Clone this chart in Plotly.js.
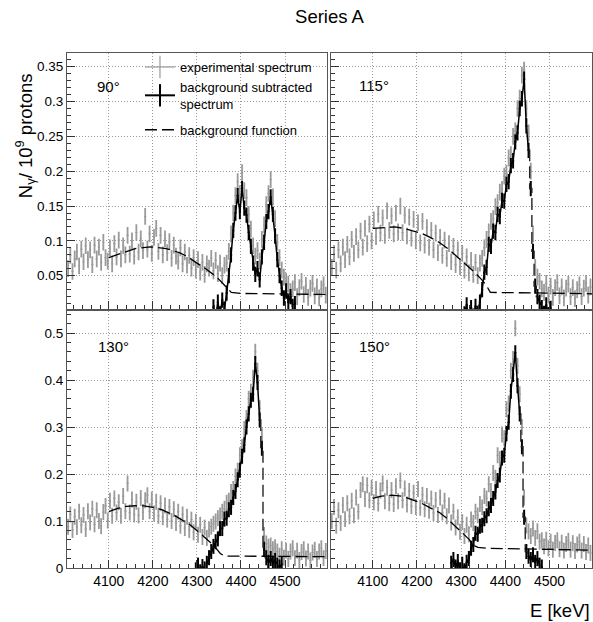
<!DOCTYPE html>
<html><head><meta charset="utf-8">
<script src="https://cdn.plot.ly/plotly-3.0.1.min.js"></script>
<style>html,body{margin:0;padding:0;background:#fff}</style>
</head><body>
<div id="chart" style="width:593px;height:622px"></div>
<script>
// ---- binning of the spectra (keV) ----
const FIRST_BIN = 4007.5;
const BIN_WIDTH = 5;
const panelLabels = ['90°', '115°', '130°', '150°'];

// ---- experimental spectra (N_gamma / 1e9 protons) ----
const exp90 = [
0.060,0.079,0.056,0.074,0.084,0.064,0.088,0.070,0.093,0.073,
0.087,0.066,0.094,0.074,0.091,0.069,0.098,0.076,0.071,0.090,
0.067,0.096,0.077,0.101,0.074,0.093,0.080,0.108,0.081,0.100,
0.078,0.112,0.084,0.103,0.086,0.135,0.088,0.110,0.082,0.105,
0.118,0.085,0.108,0.080,0.103,0.083,0.099,0.075,0.094,0.078,
0.071,0.090,0.067,0.084,0.065,0.079,0.061,0.076,0.058,0.073,
0.055,0.069,0.052,0.067,0.061,0.075,0.057,0.072,0.053,0.068,
0.050,0.065,0.068,0.085,0.110,0.140,0.165,0.185,0.168,0.198,
0.172,0.162,0.138,0.117,0.093,0.078,0.086,0.071,0.102,0.123,
0.152,0.168,0.188,0.163,0.132,0.098,0.076,0.058,0.048,0.042,
0.038,0.027,0.031,0.040,0.020,0.033,0.042,0.023,0.036,0.019,
0.032,0.039,0.021,0.034,0.018,0.031,0.037,0.022];
const exp115 = [
0.062,0.082,0.058,0.087,0.067,0.091,0.073,0.095,0.077,0.102,
0.082,0.106,0.087,0.114,0.091,0.118,0.096,0.124,0.100,0.130,
0.106,0.138,0.111,0.133,0.108,0.143,0.115,0.136,0.110,0.140,
0.113,0.150,0.112,0.137,0.107,0.134,0.104,0.131,0.100,0.126,
0.097,0.128,0.094,0.119,0.091,0.115,0.087,0.111,0.083,0.105,
0.079,0.101,0.075,0.096,0.070,0.092,0.066,0.087,0.063,0.082,
0.058,0.077,0.054,0.072,0.052,0.069,0.050,0.068,0.075,0.090,
0.102,0.113,0.128,0.132,0.149,0.155,0.170,0.174,0.193,0.197,
0.219,0.224,0.250,0.258,0.290,0.305,0.338,0.345,0.290,0.255,
0.200,0.110,0.062,0.048,0.042,0.031,0.026,0.039,0.022,0.035,
0.019,0.033,0.040,0.021,0.034,0.018,0.032,0.038,0.020,0.033,
0.017,0.030,0.037,0.020,0.032,0.039,0.022,0.034];
const exp130 = [
0.088,0.114,0.081,0.109,0.087,0.120,0.091,0.113,0.083,0.121,
0.097,0.126,0.093,0.123,0.100,0.089,0.119,0.132,0.101,0.143,
0.111,0.148,0.118,0.140,0.111,0.153,0.121,0.180,0.118,0.146,
0.114,0.141,0.112,0.149,0.119,0.144,0.155,0.121,0.146,0.116,
0.141,0.111,0.138,0.108,0.133,0.103,0.130,0.100,0.125,0.096,
0.120,0.090,0.114,0.085,0.109,0.081,0.103,0.076,0.098,0.071,
0.092,0.066,0.086,0.064,0.082,0.088,0.094,0.099,0.106,0.112,
0.120,0.126,0.139,0.143,0.162,0.168,0.195,0.207,0.240,0.257,
0.296,0.319,0.360,0.375,0.405,0.460,0.420,0.340,0.280,0.070,
0.052,0.045,0.048,0.040,0.044,0.035,0.026,0.040,0.022,0.037,
0.019,0.035,0.042,0.021,0.037,0.017,0.034,0.040,0.020,0.035,
0.016,0.033,0.039,0.019,0.035,0.042,0.021,0.036];
const exp150 = [
0.100,0.130,0.090,0.123,0.096,0.134,0.104,0.138,0.110,0.143,
0.112,0.150,0.120,0.166,0.178,0.147,0.176,0.144,0.171,0.140,
0.168,0.137,0.165,0.180,0.142,0.171,0.138,0.166,0.136,0.174,
0.142,0.186,0.144,0.169,0.135,0.164,0.132,0.160,0.130,0.168,
0.128,0.156,0.125,0.153,0.122,0.148,0.117,0.145,0.113,0.150,
0.118,0.143,0.110,0.133,0.097,0.120,0.086,0.108,0.077,0.098,
0.068,0.092,0.072,0.103,0.096,0.120,0.112,0.136,0.129,0.153,
0.148,0.178,0.164,0.202,0.192,0.240,0.232,0.284,0.276,0.338,
0.350,0.420,0.445,0.510,0.430,0.370,0.300,0.150,0.090,0.078,
0.068,0.084,0.064,0.078,0.056,0.059,0.046,0.060,0.042,0.056,
0.039,0.053,0.059,0.040,0.054,0.037,0.051,0.058,0.039,0.053,
0.036,0.050,0.056,0.037,0.051,0.034,0.048,0.032];

// ---- background subtracted spectra (first bin centre, values) ----
const sub90Start = 4337.5;
const sub90 = [
0.005,-0.010,0.012,-0.005,0.015,0.002,0.025,0.050,0.080,0.115,
0.140,0.165,0.142,0.175,0.147,0.137,0.112,0.092,0.068,0.052,
0.060,0.044,0.077,0.098,0.128,0.142,0.163,0.138,0.107,0.073,
0.050,0.032,0.018,0.028,0.012,0.020,0.006,0.010];
const sub115Start = 4307.5;
const sub115 = [
-0.005,0.008,-0.012,0.004,-0.008,0.006,-0.004,0.012,0.030,0.055,
0.062,0.095,0.092,0.114,0.112,0.138,0.135,0.158,0.157,0.181,
0.185,0.208,0.215,0.242,0.255,0.290,0.304,0.332,0.265,0.230,
0.175,0.085,0.035,0.020,0.012,0.004,-0.004,0.008,-0.006,0.003];
const sub130Start = 4297.5;
const sub130 = [
-0.004,0.006,-0.008,0.003,-0.002,0.010,0.022,0.035,0.046,0.056,
0.062,0.084,0.084,0.104,0.106,0.124,0.129,0.150,0.163,0.188,
0.208,0.238,0.262,0.300,0.328,0.357,0.370,0.435,0.395,0.315,
0.255,0.040,0.022,0.012,0.020,0.010,0.016,0.006,0.002,0.008];
const sub150Start = 4277.5;
const sub150 = [
0.010,0.018,0.002,0.014,-0.004,0.008,-0.006,0.012,0.020,0.042,
0.050,0.074,0.072,0.089,0.091,0.105,0.111,0.126,0.133,0.148,
0.162,0.186,0.198,0.234,0.240,0.286,0.310,0.376,0.412,0.458,
0.388,0.328,0.258,0.108,0.035,0.025,0.018,0.028,0.012,0.020,
0.006,0.002];
// bins [first, last) of the steep falling edge of each subtracted peak (drawn dashed)
const edge90 = null;
const edge115 = [29, 34];
const edge130 = [29, 33];
const edge150 = [31, 36];

// ---- background functions (E keV, value) ----
const bg90E = [4100,4130,4160,4194,4230,4260,4277,4300,4320,4345,4362,4378,4400,4500,4596];
const bg90V = [0.076,0.083,0.089,0.0915,0.089,0.083,0.078,0.068,0.060,0.048,0.037,0.026,0.0245,0.024,0.023];
const bg115E = [4100,4125,4150,4170,4190,4210,4230,4250,4270,4290,4310,4330,4347,4357,4366,4400,4500,4596];
const bg115V = [0.118,0.1195,0.120,0.118,0.115,0.111,0.105,0.098,0.089,0.078,0.067,0.055,0.044,0.036,0.026,0.0255,0.025,0.024];
const bg130E = [4100,4120,4140,4160,4180,4200,4220,4247,4270,4285,4307,4330,4345,4353,4362,4400,4500,4596];
const bg130V = [0.120,0.127,0.131,0.1325,0.132,0.129,0.124,0.113,0.100,0.0915,0.074,0.055,0.040,0.031,0.0255,0.025,0.0245,0.024];
const bg150E = [4100,4120,4143,4165,4190,4210,4226,4251,4270,4286,4305,4319,4326,4338,4360,4450,4596];
const bg150V = [0.148,0.153,0.155,0.153,0.145,0.138,0.130,0.118,0.104,0.090,0.073,0.060,0.049,0.044,0.042,0.041,0.038];

// ---- axis ranges ----
const xRange = [4005, 4596];
const yRangeTop = [0.0015, 0.3697];
const yRangeBottom = [0, 0.548];

const expAll = [exp90, exp115, exp130, exp150];
const subAll = [sub90, sub115, sub130, sub150];
const subStarts = [sub90Start, sub115Start, sub130Start, sub150Start];
const edges = [edge90, edge115, edge130, edge150];
const bgE = [bg90E, bg115E, bg130E, bg150E];
const bgV = [bg90V, bg115V, bg130V, bg150V];

const GRAY = '#9a9a9a';
const DASH = '12px,5px';
const FONT = 'Liberation Sans, Arial, Helvetica, sans-serif';

function centers(start, n) { const a = []; for (let i = 0; i < n; i++) a.push(start + i * BIN_WIDTH); return a; }

const suffix = ['', '2', '3', '4'];
const traces = [];
for (let p = 0; p < 4; p++) {
  const xa = 'x' + suffix[p], ya = 'y' + suffix[p];
  const top = p < 2;
  const errExp = top ? 0.012 : 0.017;
  const errSub = top ? 0.011 : 0.016;
  traces.push({
    x: centers(FIRST_BIN, expAll[p].length), y: expAll[p], xaxis: xa, yaxis: ya,
    type: 'scatter', mode: 'markers', marker: {size: 1, color: 'rgba(0,0,0,0)'},
    error_y: {type: 'constant', value: errExp, thickness: 1.8, width: 0, color: GRAY},
    error_x: {type: 'constant', value: BIN_WIDTH / 2, thickness: 1.2, width: 0, color: GRAY},
    showlegend: false, hoverinfo: 'skip'
  });
  const sx = centers(subStarts[p], subAll[p].length);
  const sy = subAll[p];
  const e = edges[p];
  // solid connecting pieces (before and after the steep edge)
  const pieces = e ? [[0, e[0] + 1], [e[1] - 1, sy.length]] : [[0, sy.length]];
  pieces.forEach(pc => traces.push({
    x: sx.slice(pc[0], pc[1]), y: sy.slice(pc[0], pc[1]), xaxis: xa, yaxis: ya,
    type: 'scatter', mode: 'lines', line: {color: '#000', width: 1.5},
    showlegend: false, hoverinfo: 'skip'
  }));
  traces.push({
    x: sx, y: sy, xaxis: xa, yaxis: ya,
    type: 'scatter', mode: 'markers', marker: {size: 1, color: 'rgba(0,0,0,0)'},
    error_y: {type: 'constant', value: errSub, thickness: 2, width: 0, color: '#000'},
    error_x: {type: 'constant', value: BIN_WIDTH / 2, thickness: 1.5, width: 0, color: '#000'},
    showlegend: false, hoverinfo: 'skip'
  });
  if (e) {
    traces.push({
      x: sx.slice(e[0], e[1]), y: sy.slice(e[0], e[1]), xaxis: xa, yaxis: ya,
      type: 'scatter', mode: 'lines', line: {color: '#222', width: 1.4, dash: DASH, shape: 'hvh'},
      showlegend: false, hoverinfo: 'skip'
    });
  }
  traces.push({
    x: bgE[p], y: bgV[p], xaxis: xa, yaxis: ya,
    type: 'scatter', mode: 'lines', line: {color: '#000', width: 1.3, dash: DASH},
    showlegend: false, hoverinfo: 'skip'
  });
}
// legend entries
traces.push({x: [null], y: [null], type: 'scatter', mode: 'lines+markers', name: 'experimental spectrum',
  legendgroup: 'a', line: {color: GRAY, width: 1.2},
  marker: {symbol: 'line-ns', size: 16, color: GRAY, line: {color: GRAY, width: 1.2}}});
traces.push({x: [null], y: [null], type: 'scatter', mode: 'lines+markers', name: 'background subtracted<br>spectrum',
  legendgroup: 'a', line: {color: '#000', width: 2},
  marker: {symbol: 'line-ns', size: 16, color: '#000', line: {color: '#000', width: 2}}});
traces.push({x: [null], y: [null], type: 'scatter', mode: 'lines', name: 'background function',
  legendgroup: 'b', line: {color: '#000', width: 1.5, dash: DASH}});

function xaxis(domain, anchor, labels) {
  return {domain: domain, anchor: anchor, range: xRange, dtick: 100, tick0: 0,
    ticks: 'inside', ticklen: 8, tickwidth: 1, tickcolor: '#333',
    minor: {ticks: 'inside', ticklen: 4, dtick: 20, tickcolor: '#333', showgrid: false},
    showticklabels: labels, tickfont: {family: FONT, size: 14, color: '#000'},
    showgrid: true, gridcolor: '#999', griddash: '1px,2px', gridwidth: 1,
    showline: true, mirror: true, linecolor: '#555', linewidth: 1, zeroline: false, fixedrange: true};
}
function yaxis(domain, anchor, range, dtick, minorDtick, labels) {
  return {domain: domain, anchor: anchor, range: range, dtick: dtick, tick0: 0,
    ticks: 'inside', ticklen: 8, tickwidth: 1, tickcolor: '#333',
    minor: {ticks: 'inside', ticklen: 4, dtick: minorDtick, tickcolor: '#333', showgrid: false},
    showticklabels: labels, tickfont: {family: FONT, size: 13.5, color: '#000'},
    showgrid: true, gridcolor: '#999', griddash: '1px,2px', gridwidth: 1,
    showline: true, mirror: true, linecolor: '#555', linewidth: 1, zeroline: false, fixedrange: true};
}

const L = [0, 0.4958], R = [0.5023, 1], T = [0.502, 1], B = [0, 0.5];
const labelPos = [[0.1076, 0.8675], [0.1006, 0.875], [0.111, 0.86], [0.1006, 0.86]];
const annotations = panelLabels.map((t, p) => ({
  text: t, xref: 'x' + suffix[p] + ' domain', yref: 'y' + suffix[p] + ' domain',
  x: labelPos[p][0], y: labelPos[p][1], xanchor: 'left', yanchor: 'middle', showarrow: false,
  font: {family: FONT, size: 15, color: '#000'}
}));
annotations.push({text: 'N<sub>γ</sub>/ 10<sup>9</sup> protons', textangle: -90, xref: 'paper', yref: 'paper',
  x: -0.08, y: 0.9637, xanchor: 'center', yanchor: 'top', showarrow: false,
  font: {family: FONT, size: 18.5, color: '#000'}});
annotations.push({text: 'E [keV]', xref: 'paper', yref: 'paper', x: 1, y: -0.0816,
  xanchor: 'right', yanchor: 'middle', showarrow: false, font: {family: FONT, size: 18.5, color: '#000'}});

const layout = {
  width: 593, height: 622, margin: {l: 67, r: 1, t: 53, b: 54},
  paper_bgcolor: '#fff', plot_bgcolor: '#fff',
  font: {family: FONT, color: '#000'},
  title: {text: 'Series A', font: {family: FONT, size: 18.5, color: '#000'},
    x: 0.5, xref: 'paper', xanchor: 'center', y: 1 - 17 / 622, yref: 'container', yanchor: 'middle'},
  showlegend: true,
  legend: {x: 0.139, y: 1.0019, xanchor: 'left', yanchor: 'top', bgcolor: 'rgba(0,0,0,0)', borderwidth: 0,
    font: {family: FONT, size: 13, color: '#000'}, traceorder: 'grouped', tracegroupgap: 6,
    itemclick: false, itemdoubleclick: false},
  xaxis: xaxis(L, 'y', false),
  yaxis: yaxis(T, 'x', yRangeTop, 0.05, 0.01, true),
  xaxis2: xaxis(R, 'y2', false),
  yaxis2: yaxis(T, 'x2', yRangeTop, 0.05, 0.01, false),
  xaxis3: xaxis(L, 'y3', true),
  yaxis3: yaxis(B, 'x3', yRangeBottom, 0.1, 0.02, true),
  xaxis4: xaxis(R, 'y4', true),
  yaxis4: yaxis(B, 'x4', yRangeBottom, 0.1, 0.02, false),
  annotations: annotations
};

Plotly.newPlot('chart', traces, layout, {staticPlot: true, displayModeBar: false});
</script>
</body></html>
